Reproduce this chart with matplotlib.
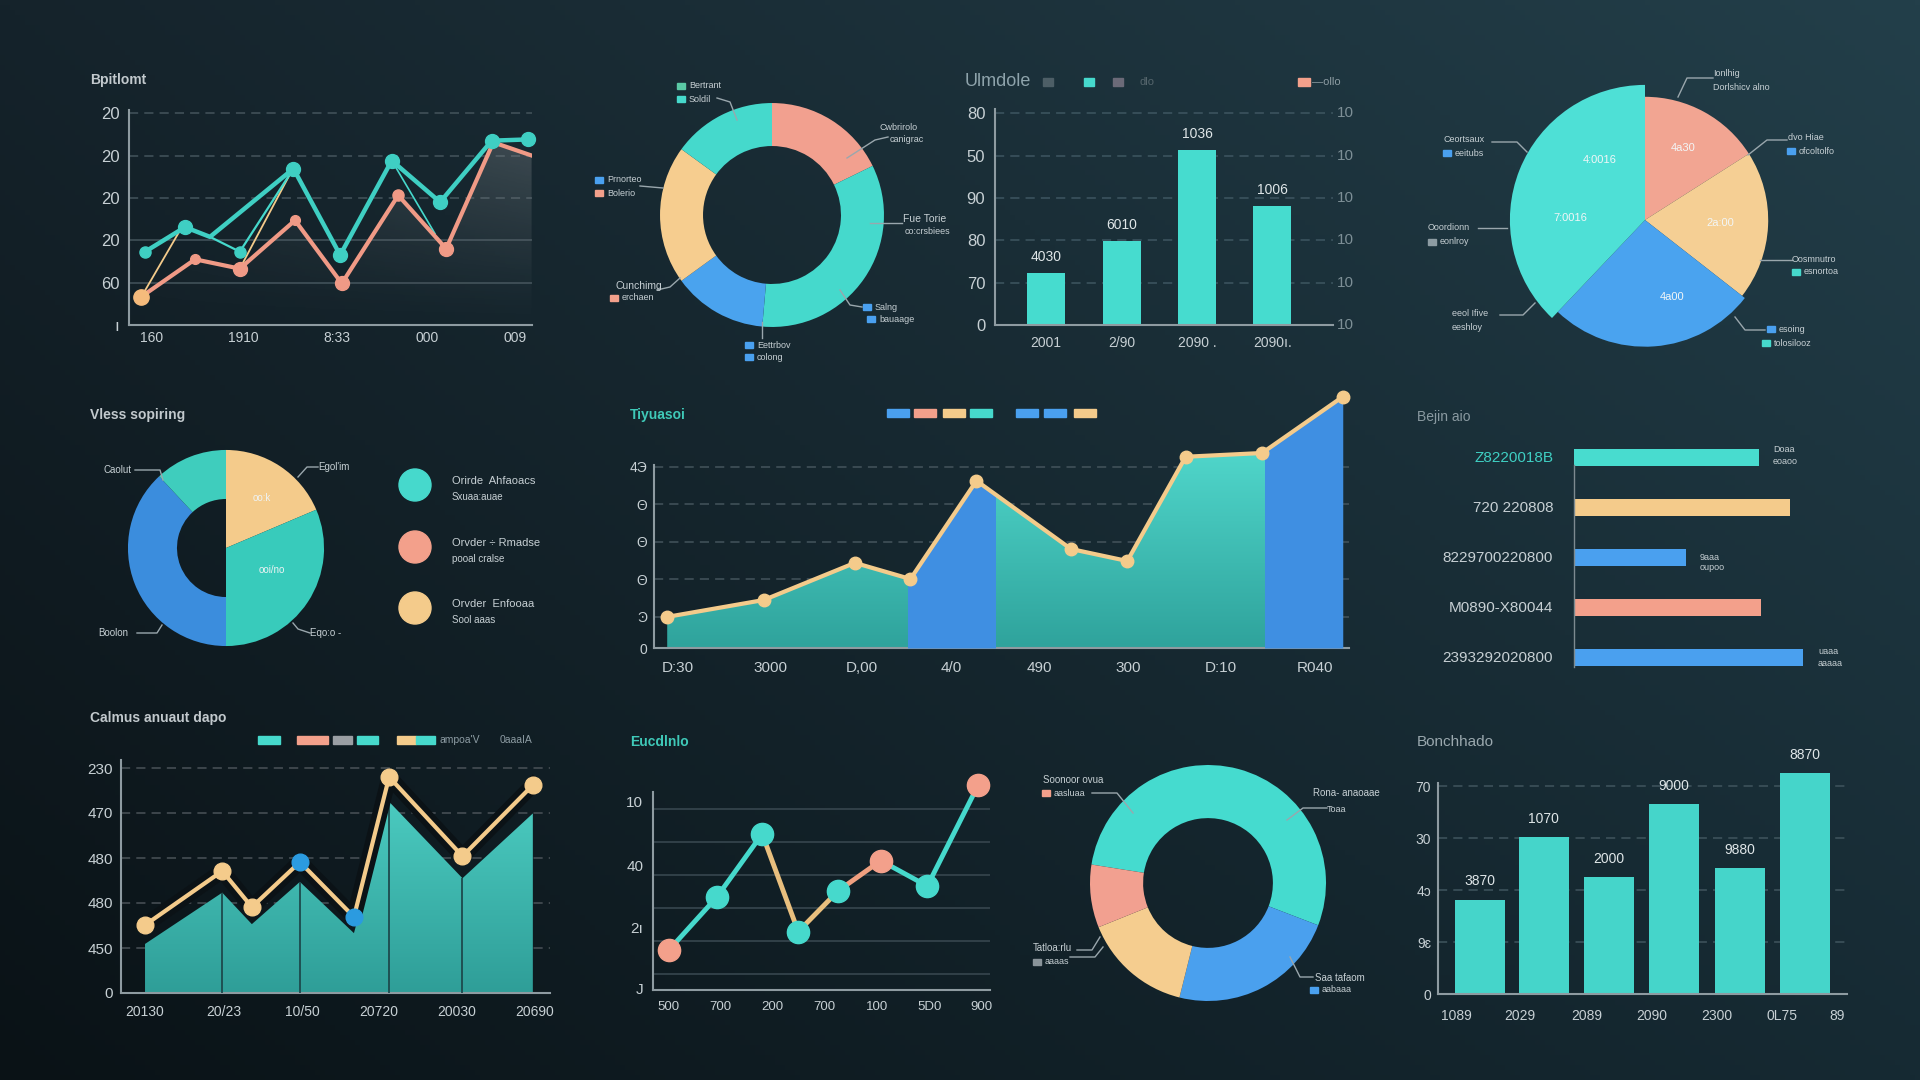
import numpy as np
import matplotlib
matplotlib.use("Agg")
import matplotlib.pyplot as plt
import matplotlib.patheffects as pe
from matplotlib.patches import Rectangle, Circle
from matplotlib.colors import to_rgb

plt.rcParams['font.family'] = ['Liberation Sans', 'DejaVu Sans']

W, H = 1920, 1080
TEAL = "#46d9cc"
SALMON = "#f3a08b"
YELLOW = "#f4cb8b"
BLUE = "#4aa0ef"
TXT = "#c7d0d4"
DIM = "#8d9ca3"
GRID = "#44545c"
SPINE = "#8e9ba1"

# ---- data ----
# top-left line chart
p1_teal_x = [0.40, 1.39, 2.01, 4.08, 5.24, 6.52, 7.72, 9.00, 9.91]
p1_teal_y = [1.73, 2.31, 2.08, 3.69, 1.65, 3.88, 2.90, 4.35, 4.38]
p1_teal2_x = [2.01, 2.75, 4.08]
p1_teal2_y = [2.08, 1.73, 3.69]
p1_teal3_x = [6.52, 7.59]
p1_teal3_y = [3.88, 2.16]
p1_salmon_x = [0.31, 1.64, 2.75, 4.12, 5.28, 6.68, 7.87, 9.04, 9.99]
p1_salmon_y = [0.67, 1.55, 1.33, 2.47, 0.98, 3.06, 1.80, 4.31, 4.00]
p1_yel1_x, p1_yel1_y = [0.31, 1.27], [0.67, 2.24]
p1_yel2_x, p1_yel2_y = [2.75, 4.00], [1.33, 3.57]
p1_yticks = ["ı", "60", "20", "20", "20", "20"]
p1_xtick_pos = [0.57, 2.83, 5.16, 7.39, 9.58]
p1_xticks = ["160", "1910", "8:33", "000", "009"]

# top donut
p2_vals = [64, 121, 49, 72, 54]

# top bar chart
p3_x = [1.51, 3.76, 5.98, 8.20]
p3_h = [1.23, 1.98, 4.13, 2.81]
p3_labels = ["4030", "6010", "1036", "1006"]
p3_xticks = ["2001", "2/90", "2090 .", "2090ı."]
p3_yticks = ["0", "70", "80", "90", "50", "80"]

# top-right pie
p4_vals = [57.5, 70.5, 95.5, 136.5]

# middle-left pie
p5_vals = [67, 113, 137, 43]

# middle area chart
p6_x = [0.19, 1.58, 2.89, 3.69, 4.64, 6.00, 6.81, 7.65, 8.75, 9.91]
p6_y = [0.00, 0.45, 1.44, 1.01, 3.63, 1.81, 1.49, 4.27, 4.37, 5.87]
p6_blue_spans = [(3.66, 4.91), (8.79, 10.0)]
p6_yticks = ["0", "Ͽ", "Θ", "Θ", "Θ", "4Э"]
p6_xtick_pos = [0.34, 1.67, 2.99, 4.28, 5.54, 6.83, 8.15, 9.51]
p6_xticks = ["D:30", "3000", "D,00", "4/0", "490", "300", "D:10", "R040"]

# horizontal bars
p7_vals = [80.4, 93.9, 48.7, 81.3, 99.6]
p7_labels = ["Z8220018B", "720 220808", "8229700220800", "M0890-X80044", "2393292020800"]

# bottom-left area chart
p8_x = [0.56, 2.36, 3.05, 4.17, 5.43, 6.25, 7.96, 9.60]
p8_line = [1.51, 2.71, 1.91, 2.91, 1.69, 4.80, 3.04, 4.62]
p8_area = [1.09, 2.23, 1.53, 2.47, 1.33, 4.25, 2.55, 3.99]
p8_yticks = ["0", "450", "480", "480", "470", "230"]
p8_xtick_pos = [0.56, 2.40, 4.22, 6.01, 7.83, 9.65]
p8_xticks = ["20130", "20/23", "10/50", "20720", "20030", "20690"]

# bottom line chart
p9_x = [0.47, 1.89, 3.24, 4.31, 5.50, 6.76, 8.14, 9.65]
p9_y = [1.21, 2.81, 4.73, 1.77, 3.01, 3.92, 3.15, 6.21]
p9_ytick_pos = [0.06, 1.88, 3.76, 5.7]
p9_yticks = ["J", "2ı", "40", "10"]
p9_xtick_pos = [0.45, 1.99, 3.53, 5.10, 6.65, 8.22, 9.76]
p9_xticks = ["500", "700", "200", "700", "100", "5D0", "900"]

# bottom donut
p10_vals = [192, 83, 54, 31]

# bottom-right bars
p11_x = [1.03, 2.59, 4.18, 5.77, 7.38, 8.97]
p11_h = [1.81, 3.02, 2.25, 3.65, 2.42, 4.25]
p11_labels = ["3870", "1070", "2000", "9000", "9880", "8870"]
p11_yticks = ["0", "9ɛ", "4ɔ", "30", "70"]
p11_xtick_pos = [0.46, 2.0, 3.64, 5.23, 6.82, 8.41, 9.76]
p11_xticks = ["1089", "2029", "2089", "2090", "2300", "0L75", "89"]

fig = plt.figure(figsize=(W / 100, H / 100), dpi=100)


def px_axes(x0, y0, x1, y1, z=1):
    ax = fig.add_axes([x0 / W, 1 - y1 / H, (x1 - x0) / W, (y1 - y0) / H], zorder=z)
    ax.set_facecolor("none")
    return ax


def style(ax, size=11):
    for s in ("top", "right"):
        ax.spines[s].set_visible(False)
    for s in ("left", "bottom"):
        ax.spines[s].set_color(SPINE)
        ax.spines[s].set_linewidth(1.5)
    ax.tick_params(length=0, colors=TXT, labelsize=size)


def grad_fill(ax, x, y, base, top, c_top, c_bot, z=2):
    poly = ax.fill_between(x, y, base, color="none", lw=0)
    g = np.linspace(0, 1, 100)[:, None]
    c0, c1 = np.array(to_rgb(c_bot)), np.array(to_rgb(c_top))
    img = (c0 + (c1 - c0) * g)[:, None, :]
    im = ax.imshow(img, extent=[min(x), max(x), base, top], origin="lower",
                   aspect="auto", zorder=z)
    im.set_clip_path(poly.get_paths()[0], transform=ax.transData)


# background gradient
bg = px_axes(0, 0, W, H, z=-10)
gy, gx = np.mgrid[0:1:216j, 0:1:384j]
cs = [np.array(to_rgb(c)) for c in ("#15232b", "#233f4a", "#0a1216", "#162a33")]
img = (cs[0] * ((1 - gx) * (1 - gy))[..., None] + cs[1] * (gx * (1 - gy))[..., None]
       + cs[2] * ((1 - gx) * gy)[..., None] + cs[3] * (gx * gy)[..., None])
bg.imshow(img, extent=[0, 1, 0, 1], aspect="auto")
bg.axis("off")

# overlay for labels / leader lines (pixel coords)
ov = px_axes(0, 0, W, H, z=10)
ov.set_xlim(0, W)
ov.set_ylim(H, 0)
ov.axis("off")


def txt(x, y, s, size=7, color=TXT, ha="left", weight="normal"):
    ov.text(x, y, s, size=size, color=color, ha=ha, va="center", weight=weight)


def lead(xs, ys):
    ov.plot(xs, ys, color="#9aa7ad", lw=1.0)


def sq(x, y, color, w=8, h=6):
    ov.add_patch(Rectangle((x, y - h / 2), w, h, color=color))


# ---------- panel 1: top-left lines ----------
ax = px_axes(129, 100, 532, 325)
style(ax)
for lv in range(1, 6):
    ax.axhline(lv, color=GRID, lw=1.1, ls=(0, (6, 4)) if lv >= 3 else "-", zorder=0)
shade = ax.fill_between(p1_salmon_x, p1_salmon_y, 0, color="none", lw=0)
gy, gx = np.mgrid[0:1:100j, 0:1:100j]
rgba = np.zeros((100, 100, 4))
rgba[..., :3] = to_rgb("#80868a")
rgba[..., 3] = gy ** 1.2 * (0.12 + 0.35 * gx)
im = ax.imshow(rgba, extent=[0, 10, 0, 5.31], origin="lower", aspect="auto", zorder=1)
im.set_clip_path(shade.get_paths()[0], transform=ax.transData)
ax.plot(p1_yel1_x, p1_yel1_y, color=YELLOW, lw=1.3, zorder=3)
ax.plot(p1_yel2_x, p1_yel2_y, color=YELLOW, lw=1.3, zorder=3)
ax.plot(p1_teal2_x, p1_teal2_y, color=TEAL, lw=1.6, zorder=3)
ax.plot(p1_teal3_x, p1_teal3_y, color=TEAL, lw=1.2, zorder=3)
ax.plot(p1_salmon_x, p1_salmon_y, color="#f09a86", lw=3, zorder=4)
ax.plot(p1_teal_x, p1_teal_y, color="#3fcfc3", lw=3.2, zorder=5)
sal_ms = [11, 7, 10, 7, 10, 8, 10]
for i, ms in enumerate(sal_ms):
    c = "#f5bb7c" if i == 0 else "#f09a86"
    ax.plot(p1_salmon_x[i], p1_salmon_y[i], "o", ms=ms, color=c, zorder=6)
for i in (0, 1, 3, 4, 5, 6, 7, 8):
    ax.plot(p1_teal_x[i], p1_teal_y[i], "o", ms=8 if i == 0 else 10, color="#3fcfc3", zorder=6, clip_on=False)
ax.plot(p1_teal2_x[1], p1_teal2_y[1], "o", ms=8, color="#3fcfc3", zorder=6)
ax.set_xlim(0, 10)
ax.set_ylim(0, 5.31)
ax.spines["left"].set_bounds(0, 5.08)
ax.set_yticks(range(6), p1_yticks)
ax.set_xticks(p1_xtick_pos, p1_xticks)
ax.tick_params(axis="y", pad=7, labelsize=12)
ax.tick_params(axis="x", pad=4, labelsize=10)
txt(90, 80, "Bpitlomt", size=10, weight="bold", color="#c2c9cd")

# ---------- panel 2: top donut ----------
ax = px_axes(657, 100, 887, 330)
ax.pie(p2_vals, colors=["#f2a08f", "#45d9cc", "#4aa3ee", "#f6cd8f", "#45d9cc"],
       startangle=90, counterclock=False, radius=1,
       wedgeprops=dict(width=0.384, lw=0))
ax.set_xlim(-1.027, 1.027)
ax.set_ylim(-1.027, 1.027)
sq(677, 86, "#5bc9a5"); txt(689, 86, "Bertrant", 6.5)
sq(677, 99, TEAL); txt(689, 99, "Soldil", 6.5)
lead([717, 730, 737], [98, 102, 120])
txt(880, 128, "Cwbrirolo", 6.5); txt(890, 140, "canigrac", 6.5)
lead([888, 875, 847], [137, 140, 158])
txt(903, 219, "Fue Torie", 7.5); txt(905, 232, "co:crsbiees", 6.5)
lead([902, 870], [223, 223])
sq(863, 307, BLUE); txt(875, 307, "Salng", 6.5)
sq(867, 319, BLUE); txt(879, 319, "bauaage", 6.5)
lead([862, 850, 840], [307, 305, 290])
sq(745, 345, BLUE); txt(757, 345, "Eettrbov", 6.5)
sq(745, 357, BLUE); txt(757, 357, "colong", 6.5)
lead([762, 762], [338, 322])
sq(595, 180, BLUE); txt(607, 180, "Prnorteo", 6.5)
sq(595, 193, SALMON); txt(607, 193, "Bolerio", 6.5)
lead([640, 663], [186, 188])
txt(615, 286, "Cunchimg", 7.5)
sq(610, 298, SALMON); txt(622, 298, "erchaen", 6.5)
lead([657, 670, 680], [290, 287, 278])

# ---------- panel 3: top bars ----------
ax = px_axes(995, 100, 1333, 325)
style(ax)
for lv in range(1, 6):
    ax.axhline(lv, color="#3e5661", lw=1.1, ls=(0, (6, 4)), zorder=0)
ax.bar(p3_x, p3_h, width=1.12, color="#46dccf", zorder=2)
for x, h, lab in zip(p3_x, p3_h, p3_labels):
    ax.text(x, h + 0.22, lab, ha="center", va="bottom", size=10, color="#dfe6e8")
for lv in range(6):
    ax.text(1.01, lv, "10", transform=ax.get_yaxis_transform(), ha="left",
            va="center", size=11, color="#7d8f96")
ax.set_xlim(0, 10)
ax.set_ylim(0, 5.31)
ax.spines["left"].set_bounds(0, 5.1)
ax.set_yticks(range(6), p3_yticks)
ax.set_xticks(p3_x, p3_xticks)
ax.tick_params(axis="y", pad=7, labelsize=12)
ax.tick_params(axis="x", pad=8, labelsize=10)
txt(965, 82, "Ulmdole", size=13, color="#8ea3ab")
sq(1043, 82, "#4d5e66", 10, 8)
sq(1084, 82, TEAL, 10, 8)
sq(1113, 82, "#6b6a78", 10, 8)
txt(1140, 82, "dlo", 8, color="#56666d")
sq(1298, 82, SALMON, 12, 8)
txt(1312, 82, "—ollo", 8, color=DIM)

# ---------- panel 4: top-right pie ----------
ax = px_axes(1505, 80, 1785, 360)
wedges, _ = ax.pie(p4_vals, colors=["#f2a592", "#f5cf94", "#4aa3ef", "#4ee0d6"],
                   startangle=90, counterclock=False, radius=0.88,
                   wedgeprops=dict(lw=0))
wedges[3].set_radius(0.965)
wedges[2].set_radius(0.905)
ax.set_xlim(-1, 1)
ax.set_ylim(-1, 1)
for x, y, s in [(1683, 148, "4a30"), (1720, 223, "2a:00"), (1672, 297, "4a00"),
                (1600, 160, "4:0016"), (1570, 218, "7:0016")]:
    txt(x, y, s, 8, color="#f2f6f7", ha="center")
txt(1713, 74, "Ionlhig", 6.5); txt(1713, 87, "Dorlshicv alno", 6.5)
lead([1713, 1687, 1678], [78, 78, 97])
txt(1788, 138, "dvo Hiae", 6.5)
sq(1787, 151, BLUE); txt(1799, 151, "ofcoltolfo", 6.5)
lead([1787, 1767, 1748], [140, 140, 155])
txt(1792, 259, "Oosmnutro", 6.5)
sq(1792, 272, TEAL); txt(1804, 272, "esnortoa", 6.5)
lead([1792, 1760], [260, 260])
sq(1767, 329, BLUE); txt(1779, 329, "esoing", 6.5)
sq(1762, 343, TEAL); txt(1774, 343, "tolosilooz", 6.5)
lead([1765, 1745, 1735], [330, 330, 317])
txt(1443, 140, "Ceortsaux", 6.5)
sq(1443, 153, BLUE); txt(1455, 153, "eeitubs", 6.5)
lead([1492, 1517, 1527], [142, 142, 152])
txt(1428, 227, "Ooordionn", 6.5)
sq(1428, 242, DIM); txt(1440, 242, "eonlroy", 6.5)
lead([1478, 1507], [228, 228])
txt(1452, 313, "eeol Ifive", 6.5); txt(1452, 327, "eeshloy", 6.5)
lead([1500, 1523, 1535], [315, 315, 303])

# ---------- panel 5: middle-left pie ----------
ax = px_axes(126, 448, 326, 648)
wedges, _ = ax.pie(p5_vals, colors=["#f4cb8b", "#38cbbb", "#3b8ddd", "#3fcdbd"],
                   startangle=90, counterclock=False, radius=1, wedgeprops=dict(lw=0))
wedges[2].set_width(0.5)
wedges[3].set_width(0.5)
ax.set_xlim(-1.02, 1.02)
ax.set_ylim(-1.02, 1.02)
txt(90, 415, "Vless sopiring", size=10, weight="bold", color="#c2c9cd")
txt(262, 498, "oo:k", 7, color="#eef3f4", ha="center")
txt(272, 570, "ooi/no", 7, color="#eef3f4", ha="center")
txt(103, 470, "Caolut", 7); lead([135, 160, 163], [470, 470, 480])
txt(318, 467, "Egol'im", 7); lead([318, 307, 298], [467, 467, 477])
txt(98, 633, "Boolon", 7); lead([137, 157, 162], [633, 633, 625])
txt(310, 633, "Eqo:o -", 7); lead([310, 298, 293], [633, 629, 623])
for (cy, c, l1, l2) in [(485, TEAL, "Orirde  Ahfaoacs", "Sxuaa:auae"),
                        (547, SALMON, "Orvder ÷ Rmadse", "pooal cralse"),
                        (608, YELLOW, "Orvder  Enfooaa", "Sool aaas")]:
    ov.add_patch(Circle((415, cy), 16, color=c))
    txt(452, cy - 4, l1, 8)
    txt(452, cy + 12, l2, 7)

# ---------- panel 6: middle area ----------
ax = px_axes(654, 390, 1349, 648)
style(ax)
for lv in range(5):
    ax.axhline(lv, color=GRID, lw=1.1, ls=(0, (6, 4)), zorder=0)
grad_fill(ax, p6_x, p6_y, -0.83, 6.05, "#5ae6d9", "#2fa39c")
for x0, x1 in p6_blue_spans:
    fb = ax.fill_between(p6_x, p6_y, -0.83, color="#3f8fe2", lw=0, zorder=3)
    fb.set_clip_path(Rectangle((x0, -1), x1 - x0, 10, transform=ax.transData))
ax.plot(p6_x, p6_y, color=YELLOW, lw=3, marker="o", ms=9, zorder=5, clip_on=False)
ax.set_xlim(0, 10)
ax.set_ylim(-0.83, 6.05)
ax.spines["left"].set_bounds(-0.83, 4.05)
ax.set_yticks([-0.83, 0, 1, 2, 3, 4], p6_yticks)
ax.set_xticks(p6_xtick_pos, p6_xticks)
ax.tick_params(axis="y", pad=5, labelsize=10)
ax.tick_params(axis="x", pad=9, labelsize=11)
txt(630, 415, "Tiyuasoi", size=10, weight="bold", color="#3fc9b8")
for x, c in zip([898, 925, 954, 981, 1027, 1055, 1085], [BLUE, SALMON, YELLOW, TEAL, BLUE, BLUE, YELLOW]):
    ov.add_patch(Rectangle((x - 11, 409), 22, 8, color=c))

# ---------- panel 7: horizontal bars ----------
ax = px_axes(1574, 432, 1850, 682)
ax.barh(range(5), p7_vals, height=0.34, color=["#48dccf", YELLOW, BLUE, SALMON, BLUE])
ax.set_xlim(0, 120)
ax.set_ylim(4.5, -0.5)
for s in ("top", "right", "bottom"):
    ax.spines[s].set_visible(False)
ax.spines["left"].set_color("#7d8a90")
ax.spines["left"].set_linewidth(1.0)
ax.spines["left"].set_bounds(0.16, 4.2)
ax.set_xticks([])
ax.set_yticks(range(5), p7_labels)
ax.tick_params(length=0, colors=TXT, labelsize=11, pad=15)
ax.get_yticklabels()[0].set_color("#3fcfc3")
txt(1417, 417, "Bejin aio", size=10, color="#8a9aa1")
for x, y, a, b in [(1773, 450, "Doaa", "eoaoo"), (1700, 557, "9aaa", "oupoo"),
                   (1818, 652, "uaaa", "aaaaa")]:
    txt(x, y, a, 6.5); txt(x, y + 11, b, 6.5)

# ---------- panel 8: bottom-left area ----------
ax = px_axes(121, 750, 550, 993)
style(ax)
for lv in range(1, 6):
    ax.axhline(lv, color="#4a5258", lw=1.1, ls=(0, (6, 4)), zorder=0)
grad_fill(ax, p8_x, p8_area, 0, 5.4, "#52d6ca", "#2f9e98")
ax.vlines([p8_x[i] for i in (1, 3, 5, 6)], 0, [p8_area[i] for i in (1, 3, 5, 6)],
          color="#1d4a4d", lw=1.3, zorder=3)
ax.plot(p8_x, p8_line, color=YELLOW, lw=3, zorder=5,
        path_effects=[pe.Stroke(linewidth=11, foreground="#0b1216"), pe.Normal()])
for i in range(len(p8_x)):
    c = "#2b9be0" if i in (3, 4) else YELLOW
    ax.plot(p8_x[i], p8_line[i], "o", ms=12, color=c, zorder=6)
ax.set_xlim(0, 10)
ax.set_ylim(0, 5.4)
ax.spines["left"].set_bounds(0, 5.18)
ax.set_yticks(range(6), p8_yticks)
ax.set_xticks(p8_xtick_pos, p8_xticks)
ax.tick_params(axis="y", pad=6, labelsize=11)
ax.tick_params(axis="x", pad=9, labelsize=10)
txt(90, 718, "Calmus anuaut dapo", size=10, weight="bold", color="#c2c9cd")
for x, w, c in [(258, 22, TEAL), (297, 31, SALMON), (333, 19, "#9a9ea3"),
                (357, 21, TEAL), (397, 19, YELLOW), (416, 19, TEAL)]:
    ov.add_patch(Rectangle((x, 736), w, 8, color=c))
txt(440, 740, "ampoa'V", 7.5, color=DIM)
txt(500, 740, "0aaaIA", 7.5, color=DIM)

# ---------- panel 9: bottom line ----------
ax = px_axes(653, 760, 990, 990)
style(ax)
for lv in np.arange(0.5, 6, 1):
    ax.axhline(lv, color="#34434b", lw=1.3, zorder=0)
seg_colors = [TEAL, TEAL, "#e9bf7e", "#e9bf7e", "#f0a080", TEAL, TEAL]
for i, c in enumerate(seg_colors):
    ax.plot(p9_x[i:i + 2], p9_y[i:i + 2], color=c, lw=3.5, zorder=3)
mk_colors = [SALMON, TEAL, TEAL, TEAL, TEAL, SALMON, TEAL, SALMON]
for x, y, c in zip(p9_x, p9_y, mk_colors):
    ax.plot(x, y, "o", ms=16, color=c, zorder=5, clip_on=False)
ax.set_xlim(0, 10)
ax.set_ylim(0, 6.97)
ax.spines["left"].set_bounds(0, 6.0)
ax.set_yticks(p9_ytick_pos, p9_yticks)
ax.set_xticks(p9_xtick_pos, p9_xticks)
ax.tick_params(axis="y", pad=7, labelsize=11)
ax.tick_params(axis="x", pad=8, labelsize=9.5)
txt(630, 742, "Eucdlnlo", size=10, weight="bold", color="#3fc9b8")

# ---------- panel 10: bottom donut ----------
ax = px_axes(1088, 763, 1328, 1003)
ax.pie(p10_vals, colors=["#45dbcf", "#4aa0ee", "#f5cd8f", "#f2a090"],
       startangle=171, counterclock=False, radius=1,
       wedgeprops=dict(width=0.45, lw=0))
ax.set_xlim(-1.017, 1.017)
ax.set_ylim(-1.017, 1.017)
txt(1043, 780, "Soonoor ovua", 7)
sq(1042, 793, SALMON); txt(1054, 793, "aasluaa", 6.5)
lead([1092, 1117, 1133], [793, 793, 813])
txt(1313, 793, "Rona- anaoaae", 7); txt(1327, 809, "Toaa", 6.5)
lead([1327, 1303, 1287], [808, 808, 820])
txt(1033, 948, "Tatloa:rlu", 7)
sq(1033, 962, "#8a949a"); txt(1045, 962, "aaaas", 6.5)
lead([1077, 1092, 1100], [950, 950, 937])
lead([1070, 1095, 1103], [957, 957, 947])
txt(1315, 978, "Saa tafaom", 7)
sq(1310, 990, BLUE); txt(1322, 990, "aabaaa", 6.5)
lead([1313, 1300, 1290], [977, 977, 957])

# ---------- panel 11: bottom-right bars ----------
ax = px_axes(1438, 760, 1847, 994)
style(ax)
for lv in range(1, 5):
    ax.axhline(lv, color="#40555e", lw=1.1, ls=(0, (6, 4)), zorder=0)
ax.bar(p11_x, p11_h, width=1.22, color="#45d5ca", zorder=2)
for x, h, lab in zip(p11_x, p11_h, p11_labels):
    ax.text(x, h + 0.22, lab, ha="center", va="bottom", size=10, color="#dfe6e8")
ax.set_xlim(0, 10)
ax.set_ylim(0, 4.5)
ax.spines["left"].set_bounds(0, 4.05)
ax.set_yticks(range(5), p11_yticks)
ax.set_xticks(p11_xtick_pos, p11_xticks)
ax.tick_params(axis="y", pad=5, labelsize=10)
ax.tick_params(axis="x", pad=11, labelsize=10)
txt(1417, 742, "Bonchhado", size=11, color="#9aa8ae")

fig.savefig("out.png", dpi=100)
